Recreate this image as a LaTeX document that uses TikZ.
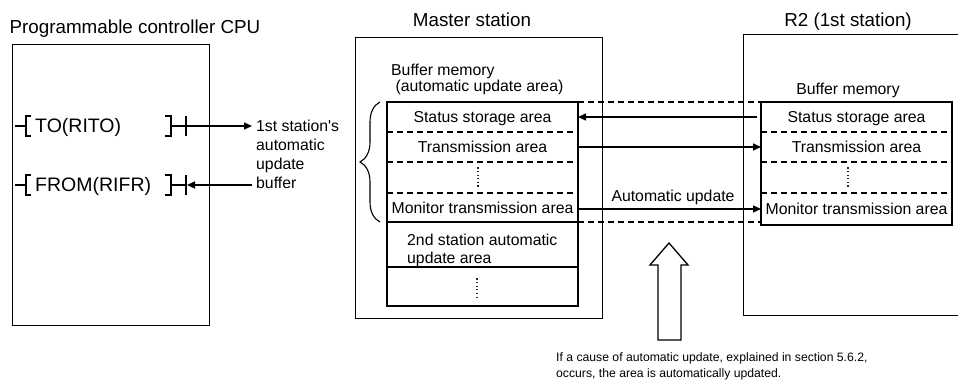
\documentclass[tikz,border=0pt]{standalone}
\usepackage{fontspec}
\setmainfont{Liberation Sans}
\usetikzlibrary{arrows.meta,calc,decorations.pathreplacing}
\begin{document}
\begin{tikzpicture}[x=1pt,y=-1pt,
  ttl/.style={font=\fontsize{18.8}{22}\selectfont, inner sep=0pt, anchor=base},
  ctxt/.style={font=\fontsize{19.5}{23}\selectfont, inner sep=0pt, anchor=base west},
  lbl/.style={font=\fontsize{15.8}{19}\selectfont, inner sep=0pt, anchor=base west},
  notetxt/.style={font=\fontsize{12.2}{15}\selectfont, inner sep=0pt, anchor=base west},
  frame/.style={line width=1pt},
  tbl/.style={line width=1.8pt},
  dsh/.style={line width=1.5pt, dash pattern=on 6pt off 4pt},
  arr/.style={line width=1.5pt, -{Triangle[length=8pt,width=7pt]}},
  rowbox/.style={inner sep=0pt, outer sep=0pt, minimum width=191pt,
    font=\fontsize{15.8}{19}\selectfont, text height=11.3pt, text depth=0pt},
  vdots/.style={line width=1.2pt, dash pattern=on 1.2pt off 2.4pt, black!85},
  contact/.style={line width=1.5pt},
]
\useasboundingbox (0,0) rectangle (958,387);
\clip (0,0) rectangle (958,387);

% ---------- CPU ----------
\node[ttl] (cput) at (135,34) {Programmable controller CPU};
\draw[frame] (12,45) rectangle (209,325);
\node[ctxt] (tot) at (35,133) {TO(RITO)};
\node[ctxt] (frt) at (35,192) {FROM(RIFR)};
\draw[contact] (15,126) -- (26,126) (31,116) -- (26,116) -- (26,136) -- (31,136);
\draw[contact] (15,185) -- (26,185) (31,175) -- (26,175) -- (26,195) -- (31,195);
\draw[contact] (165,116) -- (171,116) -- (171,136) -- (165,136) (171,126) -- (186,126) (186,116) -- (186,136);
\draw[contact] (165,175) -- (171,175) -- (171,195) -- (165,195) (171,185) -- (186,185) (186,175) -- (186,195);
\coordinate (toR) at (186,126);
\coordinate (frR) at (187,185);

\node[lbl] (b1) at (256,131.5) {1st station\textquotesingle s};
\node[lbl] (b2) at (256,150.5) {automatic};
\node[lbl] (b3) at (256,169.5) {update};
\node[lbl] (b4) at (256,188.5) {buffer};
\draw[arr] (toR) -- (toR -| 252,0);
\draw[arr] (frR -| 252,0) -- (frR);

% ---------- Master station ----------
\node[ttl] (mstt) at (472,27) {Master station};
\draw[frame] (355,38) rectangle (602,318);
\node[lbl] (mb1) at (391,75.5) {Buffer memory};
\node[lbl] (mb2) at (391,91.5) {\ (automatic update area)};

\node[rowbox, minimum height=30pt] (m1) at (482.5,117) {Status storage area};
\node[rowbox, minimum height=30pt] (m2) at (482.5,147) {Transmission area};
\node[rowbox, minimum height=31pt] (m3) at (482.5,177.5) {};
\node[rowbox, minimum height=29pt] (m4) at (482.5,207.5) {Monitor transmission area};
\node[rowbox, minimum height=45pt] (m5) at (482.5,244.5) {};
\node[rowbox, minimum height=39pt] (m6) at (482.5,286.5) {};
\node[lbl] (m5a) at (407,245.5) {2nd station automatic};
\node[lbl] (m5b) at (407,263.5) {update area};

\draw[tbl] (m1.north west) rectangle (m6.south east);
\draw[dsh] (m1.south west) -- (m1.south east);
\draw[dsh] (m2.south west) -- (m2.south east);
\draw[dsh] (m3.south west) -- (m3.south east);
\draw[tbl] (m4.south west) -- (m4.south east);
\draw[tbl] (m5.south west) -- (m5.south east);
\draw[vdots] ($(m3.center)+(-4.5,-10)$) -- ($(m3.center)+(-4.5,11)$);
\draw[vdots] ($(m6.center)+(-5.5,-8)$) -- ($(m6.center)+(-5.5,12)$);

\coordinate (brb) at (m4.south west -| 380,0);
\coordinate (brt) at (m1.north west -| 380,0);
\draw[line width=1.1pt, decorate, decoration={brace, amplitude=20pt}] (brb) -- (brt);

% ---------- R2 ----------
\node[ttl] (r2t) at (848,27) {R2 (1st station)};
\draw[frame] (743,35) rectangle (990,315);
\node[font=\fontsize{15.8}{19}\selectfont, inner sep=0pt, anchor=base] (rb) at (848,94.5) {Buffer memory};

\node[rowbox, minimum height=30pt] (r1) at (856.5,117) {Status storage area};
\node[rowbox, minimum height=30pt] (r2) at (856.5,147) {Transmission area};
\node[rowbox, minimum height=31pt] (r3) at (856.5,177.5) {};
\node[rowbox, minimum height=32pt] (r4) at (856.5,209) {Monitor transmission area};
\draw[tbl] (r1.north west) rectangle (r4.south east);
\draw[dsh] (r1.south west) -- (r1.south east);
\draw[dsh] (r2.south west) -- (r2.south east);
\draw[dsh] (r3.south west) -- (r3.south east);
\draw[vdots] ($(r3.center)+(-8.5,-10)$) -- ($(r3.center)+(-8.5,11)$);

% ---------- links ----------
\draw[dsh] (m1.north east) -- (r1.north west);
\draw[dsh] (m4.south east) -- (m4.south east -| r4.west);
\draw[arr] ([xshift=-4pt]r1.west) -- (m1.east);
\draw[arr] (m2.east) -- (r2.west);
\draw[arr] (m4.east |- r4.west) -- (r4.west);
\node[font=\fontsize{15.8}{19}\selectfont, inner sep=0pt, anchor=base] (au) at (673,202) {Automatic update};

% ---------- hollow arrow and note ----------
\draw[line width=1.3pt, fill=white] (669,243) -- (688,265) -- (681,265) -- (681,340)
  -- (658,340) -- (658,265) -- (650,265) -- cycle;
\node[notetxt] (n1) at (556,361) {If a cause of automatic update, explained in section 5.6.2,};
\node[notetxt] (n2) at (556,377) {occurs, the area is automatically updated.};
\end{tikzpicture}
\end{document}
